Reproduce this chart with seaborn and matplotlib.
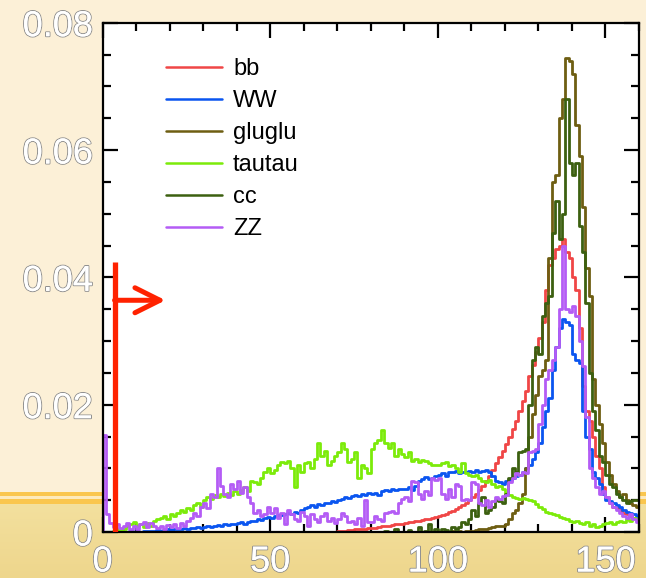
import numpy as np
import pandas as pd
import matplotlib
matplotlib.use("Agg")
import matplotlib.pyplot as plt
import matplotlib.patheffects as pe
from matplotlib.lines import Line2D
from matplotlib.ticker import MultipleLocator, FixedLocator, FixedFormatter
import seaborn as sns

# ---------------------------------------------------------------------------
# Normalised invariant-mass distributions, 1 GeV bins from 0 to 160.
# Values are bin contents in units of 1e-4.
# ---------------------------------------------------------------------------
bin_edges_gev = list(range(0, 161))

bb = [0] * 70 + [
    1, 2, 2, 3, 3, 4, 4, 5, 5, 6,
    7, 7, 8, 9, 9, 10, 11, 12, 12, 13,
    14, 15, 16, 17, 18, 19, 20, 21, 22, 24,
    25, 27, 29, 31, 33, 36, 39, 42, 46, 50,
    55, 60, 66, 72, 80, 88, 98, 108, 118, 128,
    138, 150, 162, 175, 190, 205, 222, 245, 262, 282,
    305, 330, 380, 420, 430, 445, 450, 460, 440, 430,
    400, 380, 320, 230, 190, 175, 150, 120, 100, 70,
    55, 45, 40, 38, 35, 30, 28, 25, 22, 20,
]

WW = [
    0, 0, 0, 0, 0, 0, 0, 0, 1, 0,
    1, 0, 1, 2, 1, 2, 3, 2, 3, 4,
    3, 4, 5, 4, 6, 5, 6, 7, 8, 7,
    8, 9, 8, 10, 11, 9, 12, 11, 13, 12,
    14, 15, 13, 16, 18, 17, 20, 19, 22, 24,
    22, 25, 27, 26, 28, 30, 29, 32, 30, 35,
    38, 40, 42, 39, 44, 42, 46, 45, 48, 47,
    50, 52, 55, 53, 56, 58, 57, 60, 58, 62,
    60, 62, 58, 64, 66, 65, 68, 66, 67, 68,
    68, 70, 66, 72, 80, 84, 86, 84, 85, 88,
    90, 92, 88, 95, 94, 96, 93, 95, 94, 96,
    95, 97, 94, 96, 98, 95, 88, 80, 78, 76,
    80, 82, 85, 88, 90, 95, 100, 105, 115, 125,
    140, 165, 190, 210, 255, 290, 320, 335, 330, 325,
    280, 270, 265, 190, 150, 130, 95, 85, 75, 60,
    50, 48, 45, 42, 40, 35, 32, 30, 28, 25,
]

gluglu = [0] * 100 + [
    0, 0, 0, 0, 1, 0, 1, 0, 1, 2,
    2, 3, 4, 5, 5, 6, 8, 10, 10, 10,
    12, 20, 30, 35, 45, 60, 100, 150, 185, 215,
    245, 255, 270, 430, 550, 560, 650, 680, 745, 740,
    720, 640, 590, 510, 415, 370, 240, 200, 170, 140,
    110, 90, 75, 65, 55, 60, 50, 45, 42, 40,
]

tautau = [
    0, 0, 0, 2, 4, 3, 5, 10, 12, 15,
    10, 12, 8, 14, 10, 18, 20, 22, 25, 20,
    28, 25, 30, 35, 32, 38, 35, 42, 45, 40,
    50, 55, 52, 58, 55, 60, 56, 62, 58, 64,
    60, 66, 70, 65, 80, 78, 75, 85, 95, 100,
    92, 98, 105, 110, 108, 112, 100, 70, 105, 95,
    108, 110, 100, 115, 140, 120, 128, 105, 112, 120,
    125, 140, 130, 110, 115, 125, 85, 105, 100, 92,
    130, 140, 145, 160, 140, 132, 140, 120, 130, 122,
    118, 125, 112, 115, 110, 113, 112, 108, 105, 106,
    105, 108, 110, 104, 106, 100, 95, 108, 92, 90,
    88, 90, 85, 80, 78, 82, 75, 70, 72, 68,
    62, 58, 55, 53, 52, 54, 52, 50, 48, 44,
    40, 36, 32, 30, 28, 26, 24, 22, 20, 18,
    15, 18, 14, 12, 16, 10, 12, 8, 10, 12,
    14, 15, 12, 16, 18, 15, 20, 18, 22, 20,
]

cc = [0] * 80 + [
    0, 0, 0, 0, 2, 0, 0, 5, 0, 0,
    0, 3, 0, 0, 8, 0, 2, 12, 0, 4,
    0, 5, 3, 0, 8, 5, 8, 15, 12, 20,
    35, 25, 45, 55, 30, 35, 40, 50, 48, 45,
    60, 85, 100, 95, 125, 128, 130, 200, 270, 290,
    280, 340, 360, 370, 470, 520, 460, 500, 680, 580,
    560, 580, 480, 440, 360, 250, 190, 160, 120, 110,
    90, 75, 70, 60, 55, 50, 45, 48, 50, 50,
]

ZZ = [
    152, 28, 14, 8, 12, 6, 10, 14, 5, 9,
    4, 12, 15, 8, 14, 10, 6, 9, 5, 11,
    8, 12, 6, 14, 10, 18, 22, 30, 25, 40,
    45, 38, 60, 55, 100, 72, 60, 55, 75, 68,
    80, 62, 70, 55, 45, 30, 35, 25, 28, 40,
    30, 38, 22, 30, 12, 35, 28, 20, 18, 32,
    25, 10, 28, 20, 15, 25, 30, 18, 22, 14,
    20, 30, 25, 15, 18, 12, 22, 10, 50, 15,
    15, 25, 20, 18, 30, 32, 33, 30, 45, 52,
    55, 48, 80, 78, 60, 52, 65, 58, 85, 82,
    85, 60, 52, 68, 55, 75, 72, 50, 52, 50,
    78, 76, 45, 42, 50, 40, 48, 55, 52, 56,
    58, 78, 85, 92, 90, 95, 92, 125, 128, 130,
    170, 200, 240, 255, 270, 290, 350, 450, 350, 345,
    355, 340, 300, 260, 180, 100, 85, 70, 60, 65,
    55, 45, 40, 35, 30, 25, 22, 28, 20, 15,
]

channels = ["bb", "WW", "gluglu", "tautau", "cc", "ZZ"]
channel_values = [bb, WW, gluglu, tautau, cc, ZZ]
channel_colors = {
    "bb": "#F04646",
    "WW": "#0A55F0",
    "gluglu": "#6E5E12",
    "tautau": "#7CEB0A",
    "cc": "#3C6010",
    "ZZ": "#B45CF5",
}

x_tick_values = [0, 50, 100, 150]
x_tick_labels = ["0", "50", "100", "150"]
y_tick_values = [0.0, 0.02, 0.04, 0.06, 0.08]
y_tick_labels = ["0", "0.02", "0.04", "0.06", "0.08"]

mass_cut = 3.6          # lower mass cut (GeV)
cut_line_top = 0.0424
cut_arrow_y = 0.0364
cut_arrow_tip = 18.8

# ---------------------------------------------------------------------------
sns.set_theme(style="white")
plt.rcParams["font.family"] = ["Liberation Sans", "DejaVu Sans"]

fig = plt.figure(figsize=(6.46, 5.78), dpi=100)

# slide-style backdrop: cream top, orange rules, tan lower band
H = 578
bg = np.zeros((H, 1, 3))
cream = np.array([252, 240, 215]) / 255
tan_top = np.array([243, 224, 158]) / 255
tan_bot = np.array([238, 214, 140]) / 255
rule = np.array([250, 198, 78]) / 255
gap = np.array([253, 234, 188]) / 255
for r in range(H):
    if r < 492:
        bg[r, 0] = cream
    elif r < 496:
        bg[r, 0] = rule
    elif r < 499:
        bg[r, 0] = gap
    elif r < 504:
        bg[r, 0] = rule
    else:
        t = (r - 504) / (H - 504)
        bg[r, 0] = tan_top * (1 - t) + tan_bot * t
bg_ax = fig.add_axes([0, 0, 1, 1], zorder=-10)
bg_ax.imshow(bg, aspect="auto", extent=[0, 1, 0, 1], interpolation="nearest")
bg_ax.axis("off")

ax = fig.add_axes([102.5 / 646, (578 - 532) / 578, 536.5 / 646, 509.3 / 578])
ax.set_facecolor("white")

edges = [-1.0] + [float(e) for e in bin_edges_gev]
centers = [0.5 * (a + b) for a, b in zip(edges[:-1], edges[1:])]
for name, vals in zip(channels, channel_values):
    w = [0.0] + [v * 1e-4 for v in vals]
    df = pd.DataFrame({"mass": centers, "frac": w})
    sns.histplot(data=df, x="mass", weights="frac", bins=edges,
                 element="step", fill=False, color=channel_colors[name],
                 linewidth=2.0, ax=ax)

ax.set_xlim(0, 160)
ax.set_ylim(0, 0.08)
ax.set_xlabel("")
ax.set_ylabel("")

ax.xaxis.set_major_locator(FixedLocator(x_tick_values))
ax.xaxis.set_major_formatter(FixedFormatter(x_tick_labels))
ax.yaxis.set_major_locator(FixedLocator(y_tick_values))
ax.yaxis.set_major_formatter(FixedFormatter(y_tick_labels))
ax.xaxis.set_minor_locator(MultipleLocator(10))
ax.yaxis.set_minor_locator(MultipleLocator(0.005))
ax.tick_params(which="both", direction="in", top=True, right=True,
               bottom=True, left=True, color="black", width=1.6)
ax.tick_params(which="major", length=11)
ax.tick_params(which="minor", length=5.5)
ax.tick_params(axis="y", which="major", pad=7, labelsize=26, labelcolor="white")
ax.tick_params(axis="x", which="major", pad=9, labelsize=26, labelcolor="white")
for lab in ax.get_xticklabels() + ax.get_yticklabels():
    lab.set_path_effects([pe.withStroke(linewidth=1.4, foreground="#8e8e8e"),
                          pe.Normal()])
for s in ax.spines.values():
    s.set_color("black")
    s.set_linewidth(1.6)

# lower mass cut marker
ax.plot([mass_cut, mass_cut], [0, cut_line_top], color="#FF2200",
        linewidth=3.8, solid_capstyle="butt", zorder=5)
ax.annotate("", xy=(cut_arrow_tip, cut_arrow_y), xytext=(mass_cut, cut_arrow_y),
            arrowprops=dict(arrowstyle="->,head_length=0.9,head_width=0.45",
                            color="#FF2200", lw=3.6, mutation_scale=20,
                            shrinkA=0, shrinkB=0, capstyle="round",
                            joinstyle="round"),
            zorder=5)

handles = [Line2D([], [], color=channel_colors[c], linewidth=1.8) for c in channels]
leg = ax.legend(handles, channels, loc="upper left",
                bbox_to_anchor=(0.118, 0.93), frameon=False, fontsize=17,
                handlelength=2.4, handletextpad=0.45, labelspacing=0.42,
                borderpad=0, borderaxespad=0)
for t in leg.get_texts():
    t.set_color("black")

fig.savefig("out.png", dpi=100)
